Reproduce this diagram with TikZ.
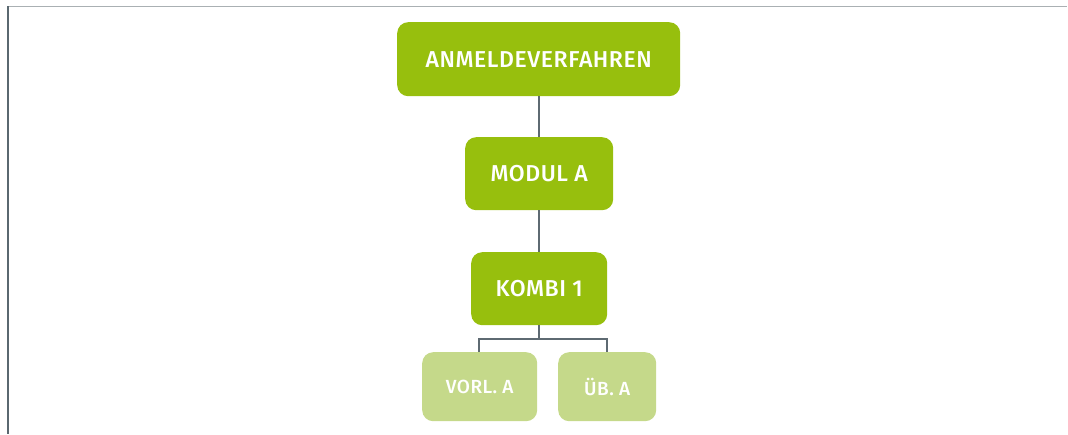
\documentclass[tikz,border=0pt]{standalone}
\usepackage{fontspec}
\setmainfont{Fira Sans}[BoldFont={Fira Sans Medium}, LetterSpace=2.5]
\definecolor{leafgreen}{HTML}{97BF0D}
\definecolor{palegreen}{HTML}{C5D98A}
\definecolor{linkgray}{HTML}{5E6A72}
\definecolor{frametop}{HTML}{AAB0B3}
\definecolor{frameleft}{HTML}{5A6870}
\begin{document}
\begin{tikzpicture}[x=1pt,y=-1pt,
  box/.style={fill=leafgreen, rounded corners=11pt, text=white, font=\bfseries\fontsize{23}{25}\selectfont, anchor=north west, inner sep=0pt},
  subbox/.style={box, fill=palegreen, font=\bfseries\fontsize{19}{21}\selectfont},
  link/.style={draw=linkgray, line width=2pt}]
\useasboundingbox (0,0) rectangle (1068,434);
% frame
\draw[frametop, line width=1.6pt] (8,6.5) -- (1067,6.5);
\draw[frameleft, line width=1.4pt] (8,6) -- (8,434);
% hierarchy
\node[box, minimum width=283pt, minimum height=74pt] (top) at (397,22) {ANMELDEVERFAHREN};
\node[box, minimum width=148pt, minimum height=73pt] (mod) at (465,137) {MODUL A};
\node[box, minimum width=136pt, minimum height=73pt] (kombi) at (471,252) {KOMBI 1};
\node[subbox, minimum width=115pt, minimum height=69pt] (vorl) at (422,352) {VORL. A};
\node[subbox, minimum width=98pt, minimum height=69pt] (ueb) at (558,352) {ÜB. A};
\coordinate (fork) at (539,339);
\draw[link] (top.south -| fork) -- (mod.north -| fork);
\draw[link] (mod.south -| fork) -- (kombi.north -| fork);
\draw[link] (kombi.south -| fork) -- (fork);
\draw[link] (479,352) |- (fork) -| (607,352);
\end{tikzpicture}
\end{document}
